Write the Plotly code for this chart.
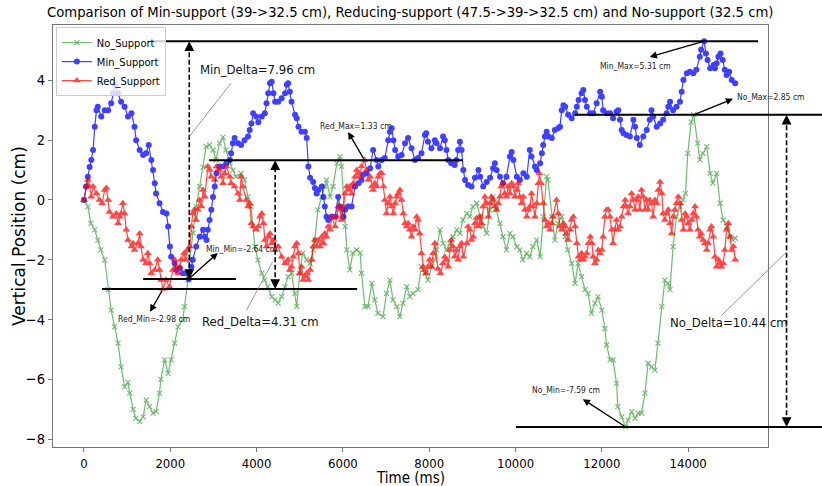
import plotly.graph_objects as go

# ---------------- data ----------------
G_T = [0, 90, 160, 250, 320, 390, 480, 560, 630, 710,
       790, 860, 940, 1020, 1060, 1140, 1200, 1290, 1370, 1440,
       1520, 1600, 1670, 1750, 1780, 1870, 1950, 2020, 2100, 2180,
       2290, 2330, 2410, 2450, 2530, 2600, 2680, 2760, 2830, 2910,
       2990, 3060, 3140, 3220, 3290, 3380, 3450, 3520, 3640, 3720,
       3800, 3870, 3960, 4030, 4120, 4190, 4260, 4350, 4430, 4500,
       4580, 4660, 4730, 4810, 4890, 4930, 5000, 5070, 5160, 5240,
       5310, 5350, 5420, 5510, 5580, 5620, 5700, 5770, 5860, 5930,
       5970, 6050, 6090, 6160, 6230, 6320, 6400, 6430, 6510, 6580,
       6670, 6740, 6810, 6930, 7010, 7090, 7160, 7250, 7320, 7390,
       7480, 7550, 7620, 7740, 7820, 7900, 7970, 8060, 8130, 8170,
       8250, 8320, 8400, 8480, 8550, 8640, 8710, 8780, 8870, 8940,
       9010, 9100, 9180, 9250, 9330, 9410, 9480, 9560, 9640, 9710,
       9790, 9870, 9940, 10030, 10100, 10170, 10260, 10330, 10400, 10490,
       10570, 10640, 10720, 10750, 10840, 10910, 10980, 11070, 11150, 11210,
       11300, 11380, 11450, 11530, 11610, 11680, 11760, 11840, 11910, 12000,
       12070, 12110, 12190, 12260, 12340, 12370, 12460, 12550, 12610, 12690,
       12770, 12840, 12920, 13000, 13070, 13150, 13230, 13300, 13390, 13460,
       13530, 13580, 13650, 13730, 13810, 13880, 13940, 13990, 14070, 14130,
       14220, 14270, 14340, 14430, 14510, 14570, 14660, 14740, 14810, 14890,
       14970, 15040, 15090]
G_V = [0.0, -0.22, -0.78, -1.0, -1.34, -1.67, -2.0, -3.0, -3.68, -4.24,
       -4.79, -5.58, -6.24, -6.1, -6.46, -7.0, -7.3, -7.4, -7.25, -6.69,
       -6.91, -7.13, -7.08, -6.46, -6.0, -5.35, -5.8, -5.35, -4.79, -4.24,
       -4.0, -3.57, -2.68, -2.0, -1.1, -0.22, 0.45, 1.1, 1.78, 1.84,
       1.67, 1.34, 1.9, 2.1, 1.67, 1.23, 1.0, 0.78, 0.89, 0.67,
       0.1, -0.22, -1.56, -2.0, -2.45, -2.68, -2.9, -3.23, -3.34, -3.45,
       -3.23, -2.9, -2.56, -2.45, -3.12, -3.57, -2.45, -1.78, -2.0, -2.12,
       -1.67, -1.34, -0.33, 0.1, 0.45, 0.67, 0.1, 0.45, 1.23, 1.45,
       1.12, -0.89, -1.67, -2.34, -1.78, -1.67, -1.78, -2.45, -3.57, -3.57,
       -2.79, -3.34, -3.79, -3.9, -3.12, -2.68, -3.34, -3.57, -3.9, -3.45,
       -2.9, -3.23, -3.12, -3.0, -2.23, -2.45, -2.68, -2.23, -2.0, -1.67,
       -1.0, -1.45, -1.67, -1.45, -1.23, -1.0, -1.12, -0.67, -0.45, -0.56,
       -0.22, -0.11, -0.56, -0.89, -1.12, -0.33, 0.1, -0.33, -0.78, -1.23,
       -1.67, -1.12, -1.23, -1.56, -1.67, -2.0, -1.78, -1.9, -1.56, -1.34,
       -1.9, -0.56, 0.78, 0.67, -0.56, -1.34, -0.78, -0.56, -1.23, -1.67,
       -2.12, -2.79, -2.12, -2.56, -3.0, -3.12, -3.79, -3.45, -3.23, -3.68,
       -4.3, -4.85, -5.35, -5.35, -6.13, -6.91, -7.25, -7.59, -7.36, -7.08,
       -7.3, -7.13, -7.13, -6.46, -5.46, -5.58, -5.69, -4.79, -3.57, -2.68,
       -2.79, -3.0, -1.56, -0.56, -0.22, 0.0, 0.22, 1.56, 2.6, 2.85,
       1.9, 1.34, 1.56, 1.78, 0.89, 0.56, 0.89, -0.11, -0.67, -0.89,
       -1.23, -1.34, -1.28]

B_T = [0, 50, 90, 130, 170, 210, 250, 290, 320, 400,
       480, 560, 630, 670, 720, 790, 860, 940, 1020, 1100,
       1170, 1210, 1290, 1370, 1440, 1500, 1560, 1600, 1640, 1670,
       1750, 1830, 1910, 1950, 1990, 2020, 2100, 2140, 2220, 2290,
       2370, 2430, 2490, 2520, 2600, 2680, 2760, 2800, 2840, 2870,
       2910, 2950, 2990, 3030, 3070, 3140, 3220, 3300, 3380, 3410,
       3450, 3490, 3570, 3640, 3720, 3800, 3840, 3880, 3920, 3990,
       4040, 4120, 4190, 4230, 4270, 4310, 4350, 4390, 4430, 4500,
       4580, 4660, 4700, 4730, 4770, 4810, 4890, 4930, 4970, 5040,
       5120, 5160, 5200, 5240, 5310, 5350, 5390, 5430, 5510, 5550,
       5580, 5620, 5660, 5740, 5820, 5890, 5930, 6010, 6050, 6120,
       6200, 6280, 6360, 6430, 6470, 6550, 6630, 6700, 6780, 6820,
       6900, 6970, 7050, 7090, 7130, 7170, 7210, 7280, 7360, 7440,
       7510, 7590, 7670, 7740, 7820, 7900, 7930, 7970, 8050, 8130,
       8170, 8250, 8320, 8360, 8400, 8440, 8510, 8590, 8630, 8670,
       8710, 8750, 8790, 8830, 8900, 8980, 9060, 9140, 9180, 9250,
       9330, 9410, 9480, 9520, 9560, 9640, 9710, 9790, 9870, 9910,
       9950, 10030, 10100, 10180, 10260, 10330, 10370, 10450, 10490, 10570,
       10610, 10640, 10680, 10720, 10760, 10840, 10910, 10990, 11030, 11070,
       11110, 11150, 11220, 11300, 11380, 11420, 11460, 11530, 11570, 11610,
       11650, 11730, 11800, 11880, 11960, 12000, 12030, 12110, 12190, 12260,
       12340, 12380, 12420, 12460, 12500, 12570, 12650, 12730, 12770, 12810,
       12880, 12960, 13040, 13110, 13150, 13190, 13270, 13350, 13420, 13500,
       13540, 13580, 13650, 13730, 13810, 13850, 13890, 13970, 14040, 14120,
       14190, 14270, 14300, 14370, 14410, 14450, 14510, 14590, 14620, 14660,
       14700, 14750, 14800, 14850, 14890, 14950, 15010, 15090]
B_V = [0.0, 0.45, 0.78, 1.1, 1.34, 1.67, 2.45, 3.0, 3.12, 2.79,
       3.0, 3.0, 3.23, 3.57, 3.85, 3.57, 3.28, 3.12, 2.79, 2.9,
       2.45, 2.0, 1.67, 1.5, 1.56, 1.84, 1.34, 1.0, 0.56, 0.22,
       -0.11, -0.4, -0.45, -0.89, -1.56, -1.9, -2.12, -2.34, -2.28, -2.45,
       -2.45, -2.64, -2.23, -2.0, -1.56, -1.23, -1.0, -1.23, -1.34, -1.0,
       -0.67, -0.33, 0.1, 0.45, 0.89, 1.12, 1.12, 1.23, 1.34, 1.56,
       1.9, 2.07, 1.9, 1.84, 2.0, 2.12, 2.34, 2.56, 2.9, 2.79,
       2.6, 2.79, 2.9, 3.23, 3.57, 3.9, 3.95, 3.57, 3.28, 3.28,
       3.4, 3.57, 3.85, 3.9, 3.62, 3.28, 2.85, 2.73, 2.45, 2.28,
       2.28, 2.07, 1.12, 0.74, 0.6, 0.4, 0.22, 0.33, 0.45, 0.1,
       -0.22, -0.56, -0.67, -0.56, -0.56, 0.1, -0.22, -0.56, -0.33, -0.22,
       -0.22, 0.45, 0.56, 0.67, 0.84, 0.89, 1.06, 1.67, 1.34, 1.12,
       1.34, 1.4, 2.0, 2.28, 2.4, 2.0, 1.67, 1.45, 1.5, 1.9,
       2.07, 1.73, 1.34, 1.4, 1.56, 2.17, 2.23, 1.95, 1.73, 2.0,
       1.9, 1.73, 2.12, 2.0, 1.67, 1.34, 1.23, 1.17, 1.34, 1.67,
       1.95, 1.67, 1.0, 0.67, 0.5, 0.45, 0.74, 1.0, 0.78, 0.45,
       0.6, 0.74, 1.06, 1.23, 1.0, 0.78, 0.56, 0.78, 1.45, 1.6,
       1.34, 0.78, 0.67, 0.89, 0.78, 1.67, 1.45, 1.12, 1.0, 1.23,
       1.56, 1.84, 2.12, 2.28, 2.12, 2.07, 2.34, 2.4, 2.45, 3.0,
       3.17, 3.12, 2.85, 2.73, 2.9, 3.12, 3.34, 3.57, 3.68, 3.34,
       3.12, 2.9, 2.9, 3.23, 3.62, 3.45, 3.0, 2.9, 2.9, 2.73,
       2.95, 3.0, 2.68, 2.34, 2.23, 2.17, 2.12, 2.68, 2.45, 2.07,
       1.84, 2.12, 2.34, 2.68, 3.0, 2.79, 2.45, 2.56, 2.68, 2.9,
       3.12, 3.28, 3.0, 3.12, 3.28, 3.62, 4.01, 4.24, 4.29, 4.24,
       4.35, 4.79, 5.02, 5.31, 4.9, 4.68, 4.4, 4.51, 4.4, 4.57,
       4.79, 4.9, 4.68, 4.35, 4.18, 4.29, 4.01, 3.9]

R_T = [0, 50, 90, 130, 170, 210, 290, 360, 420, 480,
       520, 560, 590, 670, 750, 790, 830, 860, 900, 940,
       980, 1020, 1100, 1140, 1170, 1250, 1290, 1320, 1370, 1440,
       1480, 1520, 1560, 1640, 1710, 1750, 1790, 1830, 1900, 1980,
       2060, 2100, 2140, 2180, 2220, 2250, 2320, 2350, 2390, 2450,
       2490, 2520, 2560, 2600, 2640, 2680, 2720, 2760, 2800, 2870,
       2910, 2950, 3030, 3070, 3140, 3180, 3220, 3260, 3300, 3380,
       3410, 3490, 3570, 3610, 3640, 3680, 3760, 3800, 3840, 3880,
       3920, 3990, 4040, 4080, 4120, 4160, 4190, 4230, 4270, 4310,
       4350, 4390, 4430, 4500, 4580, 4660, 4730, 4770, 4810, 4850,
       4890, 4930, 4970, 5000, 5040, 5080, 5120, 5160, 5200, 5240,
       5280, 5310, 5350, 5390, 5430, 5470, 5510, 5550, 5580, 5620,
       5660, 5700, 5740, 5820, 5860, 5890, 5930, 5970, 6010, 6050,
       6090, 6120, 6160, 6200, 6240, 6280, 6320, 6360, 6390, 6430,
       6500, 6550, 6590, 6630, 6670, 6700, 6740, 6780, 6820, 6860,
       6900, 6940, 6970, 7010, 7050, 7090, 7130, 7170, 7210, 7250,
       7280, 7320, 7360, 7400, 7440, 7480, 7510, 7550, 7590, 7630,
       7670, 7710, 7740, 7780, 7820, 7860, 7900, 7930, 7970, 8010,
       8050, 8090, 8130, 8200, 8260, 8320, 8360, 8400, 8440, 8480,
       8510, 8550, 8590, 8630, 8670, 8710, 8750, 8790, 8870, 8900,
       8940, 8980, 9020, 9060, 9100, 9140, 9180, 9210, 9250, 9290,
       9330, 9370, 9410, 9440, 9480, 9520, 9560, 9600, 9640, 9670,
       9710, 9750, 9790, 9830, 9870, 9910, 9950, 9990, 10030, 10060,
       10100, 10140, 10180, 10220, 10260, 10300, 10330, 10370, 10410, 10450,
       10490, 10530, 10550, 10590, 10640, 10680, 10720, 10760, 10800, 10840,
       10870, 10950, 10990, 11030, 11070, 11110, 11150, 11180, 11220, 11260,
       11300, 11340, 11380, 11420, 11460, 11500, 11530, 11570, 11610, 11650,
       11690, 11730, 11770, 11800, 11840, 11880, 11920, 11960, 12000, 12030,
       12070, 12110, 12150, 12190, 12230, 12260, 12300, 12340, 12380, 12420,
       12460, 12500, 12540, 12570, 12610, 12650, 12690, 12730, 12770, 12810,
       12840, 12880, 12920, 12960, 13000, 13040, 13070, 13110, 13150, 13190,
       13230, 13270, 13310, 13350, 13390, 13420, 13460, 13500, 13540, 13580,
       13620, 13650, 13690, 13730, 13770, 13810, 13850, 13890, 13930, 13970,
       14000, 14040, 14080, 14120, 14160, 14190, 14230, 14270, 14300, 14350,
       14390, 14430, 14460, 14510, 14540, 14580, 14620, 14660, 14700, 14740,
       14770, 14810, 14850, 14890, 14930, 14970, 15010, 15050, 15090]
R_V = [0.0, 0.45, 0.67, 0.45, 0.11, 0.45, 0.22, 0.0, -0.11, 0.33,
       0.4, 0.0, -0.4, -0.56, -0.45, -0.78, -0.56, -0.45, -0.11, -0.45,
       -1.0, -1.34, -1.56, -1.45, -1.67, -1.45, -1.12, -1.56, -2.0, -2.12,
       -1.78, -2.12, -2.45, -2.34, -2.0, -2.34, -2.68, -2.98, -2.68, -2.9,
       -2.34, -2.0, -2.23, -2.45, -2.23, -2.0, -1.78, -2.0, -1.67, -1.56,
       -0.89, -0.45, -0.33, -0.67, -0.33, 0.0, -0.22, 0.33, 0.11, 1.12,
       1.0, 0.78, 0.67, 1.12, 1.0, 0.78, 0.56, 0.89, 1.12, 0.78,
       0.56, 0.45, 0.22, 0.0, 0.78, 0.45, 0.0, -0.22, -0.11, -0.78,
       -0.89, -1.0, -0.89, -0.56, -0.45, -0.78, -1.34, -1.56, -1.23, -1.12,
       -1.45, -1.34, -1.67, -1.56, -1.9, -2.12, -2.0, -2.34, -2.23, -1.9,
       -1.56, -1.45, -1.78, -2.45, -2.23, -2.68, -2.56, -2.45, -2.68, -2.34,
       -2.0, -1.56, -1.34, -1.56, -1.34, -1.56, -1.23, -1.45, -1.12, -1.23,
       -0.89, -1.0, -0.56, -0.89, -0.56, -0.22, -0.33, -0.67, -0.22, 0.22,
       0.45, 0.33, 0.45, 0.22, 0.56, 0.78, 1.0, 0.89, 0.78, 1.12,
       1.33, 1.0, 0.67, 0.78, 0.45, 0.33, 0.56, 0.45, 0.78, 0.89,
       0.89, 0.45, 0.0, -0.45, -0.11, 0.11, -0.22, -0.45, -0.11, 0.11,
       0.22, 0.33, 0.0, -0.45, -0.78, -0.89, -0.78, -1.0, -1.23, -0.89,
       -1.0, -0.56, -0.67, -1.12, -1.78, -2.23, -2.34, -2.45, -2.23, -2.0,
       -2.23, -1.78, -1.45, -2.3, -2.45, -2.12, -1.9, -2.0, -2.23, -1.67,
       -1.34, -1.56, -1.9, -1.67, -2.0, -1.56, -1.45, -1.9, -1.45, -0.89,
       -1.0, -1.34, -1.23, -0.78, -0.6, -0.89, -0.56, -0.78, -0.22, 0.11,
       -0.11, -0.56, -0.11, 0.11, 0.0, -0.22, -0.33, -0.11, 0.11, 0.45,
       0.56, 0.22, 0.11, 0.45, 0.22, 0.56, 0.45, 0.11, 0.33, 0.56,
       0.11, -0.11, 0.11, -0.33, -0.56, -0.33, -0.22, 0.22, -0.22, -0.56,
       -0.11, 0.56, 0.89, 0.56, -0.11, -0.67, -0.89, -0.78, -1.0, -0.78,
       -0.56, 0.0, -0.45, -0.89, -1.0, -0.78, -0.89, -1.12, -1.34, -1.0,
       -0.67, -0.56, -0.89, -1.45, -1.9, -2.0, -1.78, -2.0, -1.9, -1.78,
       -1.45, -1.23, -1.45, -1.9, -2.12, -2.0, -1.67, -1.78, -1.67, -1.23,
       -0.56, -0.33, -0.33, -0.56, -1.0, -1.45, -1.0, -0.67, -1.0, -0.89,
       -0.56, -0.22, 0.0, -0.22, -0.45, -0.22, 0.22, 0.0, -0.33, 0.0,
       0.11, -0.33, 0.33, 0.11, -0.33, 0.0, -0.33, 0.0, -0.11, -0.56,
       0.0, -0.11, 0.33, 0.6, 0.22, -0.45, -0.67, -0.45, -0.33, -0.78,
       -1.12, -0.56, -0.33, -0.11, 0.11, -0.11, -0.67, -1.0, -0.45, -0.56,
       -0.78, -1.0, -0.67, -0.45, -0.22, -0.56, -1.0, -1.23, -1.12, -1.34,
       -1.45, -1.67, -1.45, -1.0, -0.89, -1.23, -1.9, -2.23, -2.0, -2.12,
       -2.23, -2.12, -1.67, -1.0, -0.78, -1.23, -1.67, -1.56, -2.0]

SERIES_NAMES = ["No_Support", "Min_Support", "Red_Support"]
X_TICKS = [0, 2000, 4000, 6000, 8000, 10000, 12000, 14000]
Y_TICKS = [-8, -6, -4, -2, 0, 2, 4]

# extreme values shown in the annotations
MIN_MAX, MIN_MIN = 5.31, -2.64
RED_MAX, RED_MIN = 1.33, -2.98
NO_MAX, NO_MIN = 2.85, -7.59
MIN_DELTA, RED_DELTA, NO_DELTA = 7.96, 4.31, 10.44
MIN_MAX_T, MIN_MIN_T = 14370, 2430
RED_MAX_T, RED_MIN_T = 6500, 1830
NO_MAX_T, NO_MIN_T = 14130, 12550

# ---------------- layout geometry ----------------
X_RANGE = [-718, 15850]
Y_RANGE = [-8.26, 5.85]
ML, MR, MT, MB = 53, 54, 25, 39
W, H = 822, 486

def xp(t):
    return (t - X_RANGE[0]) / (X_RANGE[1] - X_RANGE[0])

def yp(v):
    return (v - Y_RANGE[0]) / (Y_RANGE[1] - Y_RANGE[0])

COND = "DejaVu Sans Condensed, Liberation Sans Narrow, DejaVu Sans"
NORMAL = "DejaVu Sans"

fig = go.Figure()
fig.add_trace(go.Scatter(
    x=G_T, y=G_V, mode="lines+markers", name=SERIES_NAMES[0],
    line=dict(color="rgb(0,128,0)", width=1.2),
    marker=dict(symbol="x-thin", size=5, color="rgb(0,128,0)",
                line=dict(color="rgb(0,128,0)", width=1.1)),
    opacity=0.55))
fig.add_trace(go.Scatter(
    x=B_T, y=B_V, mode="lines+markers", name=SERIES_NAMES[1],
    line=dict(color="rgb(0,0,255)", width=1.2),
    marker=dict(symbol="circle", size=6, color="rgb(0,0,255)"),
    opacity=0.75))
fig.add_trace(go.Scatter(
    x=R_T, y=R_V, mode="lines+markers", name=SERIES_NAMES[2],
    line=dict(color="rgb(255,0,0)", width=1.2),
    marker=dict(symbol="triangle-up", size=7, color="rgb(255,0,0)"),
    opacity=0.72))

shapes = []
# horizontal reference lines (t_start, t_end, level)
HLINES = [(1480, 15620, MIN_MAX), (2900, 8780, RED_MAX), (11380, 18000, NO_MAX),
          (1370, 3520, MIN_MIN), (420, 6330, RED_MIN), (10010, 18000, NO_MIN)]
for t0, t1, v in HLINES:
    shapes.append(dict(type="line", xref="paper", yref="paper",
                       x0=xp(t0), x1=xp(t1), y0=yp(v), y1=yp(v),
                       line=dict(color="black", width=2)))
# dashed delta arrows (t, low, high)
VARROWS = [(2440, MIN_MIN, MIN_MAX), (4430, RED_MIN, RED_MAX), (16280, NO_MIN, NO_MAX)]
for t, lo, hi in VARROWS:
    shapes.append(dict(type="line", xref="paper", yref="paper",
                       x0=xp(t), x1=xp(t), y0=yp(lo) + 0.01, y1=yp(hi) - 0.01,
                       line=dict(color="black", width=1.6, dash="5px,2.5px")))
# thin connectors for delta labels
CONNECT = [(2430, 2.1, 3410, 3.91), (3770, -3.68, 4370, -2.07), (14760, -3.88, 16280, -1.74)]
for t0, v0, t1, v1 in CONNECT:
    shapes.append(dict(type="line", xref="paper", yref="paper",
                       x0=xp(t0), x1=xp(t1), y0=yp(v0), y1=yp(v1),
                       line=dict(color="#808080", width=0.8)))

annotations = []
# arrowheads for the dashed arrows
for t, lo, hi in VARROWS:
    for v, ay in ((hi, 9), (lo, -9)):
        annotations.append(dict(xref="paper", yref="paper", x=xp(t), y=yp(v),
                                ax=0, ay=ay, text="", showarrow=True,
                                arrowhead=2, arrowsize=1.3, arrowwidth=1.5,
                                arrowcolor="black", standoff=0))
# small annotation arrows (head_t, head_v, tail_t, tail_v)
SMALL_ARROWS = [(13110, 4.78, MIN_MAX_T, MIN_MAX), (15040, 3.38, NO_MAX_T, NO_MAX),
                (6120, 2.27, RED_MAX_T, RED_MAX), (3100, -1.77, MIN_MIN_T, MIN_MIN),
                (1530, -3.74, RED_MIN_T, RED_MIN), (11560, -6.66, NO_MIN_T, NO_MIN)]
for ht, hv, tt, tv in SMALL_ARROWS:
    annotations.append(dict(xref="x", yref="y", axref="x", ayref="y",
                            x=ht, y=hv, ax=tt, ay=tv, text="", showarrow=True,
                            arrowhead=2, arrowsize=1.1, arrowwidth=1.3,
                            arrowcolor="black", standoff=0, startstandoff=0))
SMALL_LABELS = [(11910, 4.48, f"Min_Max={MIN_MAX:.2f} cm"),
                (15090, 3.44, f"No_Max={NO_MAX:.2f} cm"),
                (5420, 2.47, f"Red_Max={RED_MAX:.2f} cm"),
                (2780, -1.64, f"Min_Min={MIN_MIN:.2f} cm"),
                (740, -3.98, f"Red_Min={RED_MIN:.2f} cm"),
                (10330, -6.35, f"No_Min={NO_MIN:.2f} cm")]
for t, v, txt in SMALL_LABELS:
    annotations.append(dict(xref="x", yref="y", x=t, y=v, text=txt, showarrow=False,
                            xanchor="left", yanchor="middle",
                            font=dict(family=COND, size=8.5, color="#222")))
BIG_LABELS = [(2640, 4.35, f"Min_Delta={MIN_DELTA:.2f} cm"),
              (2690, -4.08, f"Red_Delta={RED_DELTA:.2f} cm"),
              (13530, -4.11, f"No_Delta={NO_DELTA:.2f} cm")]
for t, v, txt in BIG_LABELS:
    annotations.append(dict(xref="x", yref="y", x=t, y=v, text=txt, showarrow=False,
                            xanchor="left", yanchor="middle",
                            font=dict(family=COND, size=13, color="#111")))
# titles
annotations.append(dict(xref="paper", yref="paper", x=0.5, y=1, yshift=14,
                        text="Comparison of Min-support (39->32.5 cm), Reducing-support (47.5->39->32.5 cm) and No-support (32.5 cm)",
                        showarrow=False, xanchor="center", yanchor="middle",
                        font=dict(family=COND, size=14.7, color="black")))
annotations.append(dict(xref="paper", yref="paper", x=0.5, y=0, yshift=-31,
                        text="Time (ms)", showarrow=False, xanchor="center", yanchor="middle",
                        font=dict(family=COND, size=15, color="black")))
annotations.append(dict(xref="paper", yref="paper", x=0, y=0.5, xshift=-34,
                        text="Vertical Position (cm)", showarrow=False, textangle=-90,
                        xanchor="center", yanchor="middle",
                        font=dict(family=NORMAL, size=17, color="black")))

axis_common = dict(showline=True, mirror=True, linecolor="#777", linewidth=1,
                   ticks="outside", ticklen=4, tickcolor="#777", showgrid=False,
                   zeroline=False, automargin=False)
fig.update_layout(
    width=W, height=H, margin=dict(l=ML, r=MR, t=MT, b=MB, pad=0, autoexpand=False),
    plot_bgcolor="white", paper_bgcolor="white",
    xaxis=dict(range=X_RANGE, tickvals=X_TICKS, tickformat="d",
               tickfont=dict(family=COND, size=13, color="black"), **axis_common),
    yaxis=dict(range=Y_RANGE, tickvals=Y_TICKS,
               tickfont=dict(family=COND, size=14.5, color="black"), **axis_common),
    legend=dict(x=0.004, y=0.995, xanchor="left", yanchor="top",
                bgcolor="rgba(255,255,255,0.8)", bordercolor="#cccccc", borderwidth=1,
                font=dict(family=COND, size=11, color="black"),
                itemwidth=30, tracegroupgap=0),
    shapes=shapes, annotations=annotations,
)

fig.write_html("out.html", config={"displayModeBar": False},
               post_script="document.body.style.margin='0px';document.body.style.padding='0px';")
